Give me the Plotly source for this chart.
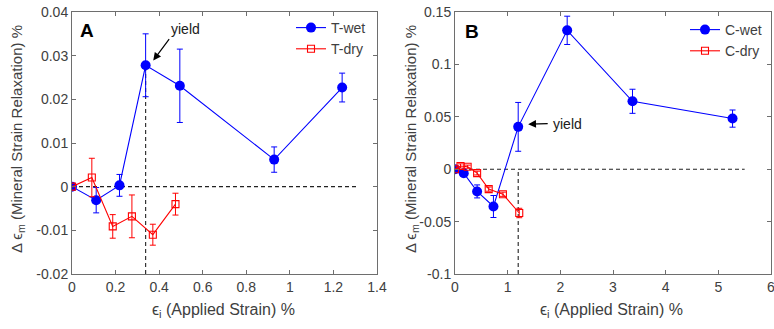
import plotly.graph_objects as go

# ---------------- Panel A data ----------------
tw_x = [0.0, 0.111, 0.218, 0.338, 0.495, 0.928, 1.240]
tw_y = [0.0, -0.0031, 0.0003, 0.0278, 0.0231, 0.0062, 0.0227]
tw_err = [0.0, 0.0029, 0.0025, 0.0072, 0.0084, 0.0029, 0.0033]

td_x = [0.0, 0.091, 0.187, 0.275, 0.371, 0.475]
td_y = [0.0, 0.0021, -0.0091, -0.0068, -0.0110, -0.0040]
td_err = [0.0, 0.0044, 0.0027, 0.0049, 0.0024, 0.0025]

# ---------------- Panel B data ----------------
cw_x = [0.0, 0.166, 0.42, 0.73, 1.20, 2.13, 3.37, 5.27]
cw_y = [0.0, -0.0039, -0.0212, -0.0356, 0.0404, 0.1325, 0.0648, 0.0483]
cw_err = [0.0, 0.002, 0.0062, 0.0105, 0.0233, 0.0135, 0.0115, 0.0082]

cd_x = [0.0, 0.104, 0.24, 0.42, 0.64, 0.91, 1.22]
cd_y = [0.0, 0.0031, 0.0024, -0.0037, -0.0190, -0.0239, -0.0418]
cd_err = [0.0, 0.002, 0.0015, 0.0018, 0.002, 0.002, 0.0045]

# reference lines / annotations
yield_A = 0.338
yield_B = 1.20
zero_end_A = 1.31
zero_end_B = 5.5

xticks_A = [0, 0.2, 0.4, 0.6, 0.8, 1, 1.2, 1.4]
xtick_text_A = ["0", "0.2", "0.4", "0.6", "0.8", "1", "1.2", "1.4"]
yticks_A = [-0.02, -0.01, 0, 0.01, 0.02, 0.03, 0.04]
ytick_text_A = ["-0.02", "-0.01", "0", "0.01", "0.02", "0.03", "0.04"]
xticks_B = [0, 1, 2, 3, 4, 5, 6]
yticks_B = [-0.1, -0.05, 0, 0.05, 0.1, 0.15]
ytick_text_B = ["-0.1", "-0.05", "0", "0.05", "0.1", "0.15"]

BLUE = "#0000ff"
RED = "#ff0000"
FONT = "Liberation Sans, Arial, sans-serif"
AXC = "#6e6e6e"
TXC = "#404040"
DASH = "4px,3px"

fig = go.Figure()

def errbar(vals, color):
    return dict(type="data", array=vals, visible=True, color=color,
                thickness=1, width=3)

# reference dashed lines (drawn first)
fig.add_trace(go.Scatter(x=[0, zero_end_A], y=[0, 0], mode="lines",
                         line=dict(color="#222", width=1.1, dash=DASH),
                         showlegend=False, hoverinfo="skip", xaxis="x", yaxis="y"))
fig.add_trace(go.Scatter(x=[yield_A, yield_A], y=[yticks_A[0], tw_y[3]], mode="lines",
                         line=dict(color="#222", width=1.1, dash=DASH),
                         showlegend=False, hoverinfo="skip", xaxis="x", yaxis="y"))
fig.add_trace(go.Scatter(x=[0, zero_end_B], y=[0, 0], mode="lines",
                         line=dict(color="#222", width=1.1, dash=DASH),
                         showlegend=False, hoverinfo="skip", xaxis="x2", yaxis="y2"))
fig.add_trace(go.Scatter(x=[yield_B, yield_B], y=[yticks_B[0], 0], mode="lines",
                         line=dict(color="#222", width=1.1, dash=DASH),
                         showlegend=False, hoverinfo="skip", xaxis="x2", yaxis="y2"))

# Panel A
fig.add_trace(go.Scatter(x=tw_x, y=tw_y, error_y=errbar(tw_err, BLUE), name="T-wet",
                         mode="lines+markers", line=dict(color=BLUE, width=1.1),
                         marker=dict(symbol="circle", size=10, color=BLUE),
                         xaxis="x", yaxis="y", legend="legend"))
fig.add_trace(go.Scatter(x=td_x, y=td_y, error_y=errbar(td_err, RED), name="T-dry",
                         mode="lines+markers", line=dict(color=RED, width=1.1),
                         marker=dict(symbol="square-open", size=7, color=RED,
                                     line=dict(width=1.1, color=RED)),
                         xaxis="x", yaxis="y", legend="legend"))
# Panel B
fig.add_trace(go.Scatter(x=cw_x, y=cw_y, error_y=errbar(cw_err, BLUE), name="C-wet",
                         mode="lines+markers", line=dict(color=BLUE, width=1.1),
                         marker=dict(symbol="circle", size=10, color=BLUE),
                         xaxis="x2", yaxis="y2", legend="legend2"))
fig.add_trace(go.Scatter(x=cd_x, y=cd_y, error_y=errbar(cd_err, RED), name="C-dry",
                         mode="lines+markers", line=dict(color=RED, width=1.1),
                         marker=dict(symbol="square-open", size=7, color=RED,
                                     line=dict(width=1.1, color=RED)),
                         xaxis="x2", yaxis="y2", legend="legend2"))

axis_common = dict(showline=True, linecolor=AXC, linewidth=1, mirror="ticks",
                   ticks="inside", ticklen=4, tickcolor=AXC, showgrid=False,
                   zeroline=False, tickfont=dict(family=FONT, size=14, color=TXC),
                   automargin=False, ticklabeloverflow="allow")

H = 329.0
W = 774.0
ydom = [1 - 274 / H, 1 - 12 / H]

fig.update_layout(
    width=774, height=329,
    margin=dict(l=0, r=0, t=0, b=0),
    paper_bgcolor="white", plot_bgcolor="white",
    font=dict(family=FONT, size=14, color=TXC),
    xaxis=dict(domain=[72 / W, 377 / W], range=[0, 1.4], tickvals=xticks_A,
               ticktext=xtick_text_A, anchor="y", **axis_common),
    yaxis=dict(domain=ydom, range=[-0.02, 0.04], tickvals=yticks_A,
               ticktext=ytick_text_A, anchor="x", **axis_common),
    xaxis2=dict(domain=[455 / W, 771 / W], range=[0, 6], tickvals=xticks_B,
                anchor="y2", **axis_common),
    yaxis2=dict(domain=ydom, range=[-0.1, 0.15], tickvals=yticks_B,
                ticktext=ytick_text_B, anchor="x2", **axis_common),
    legend=dict(x=291 / W, y=1 - 12 / H, xanchor="left", yanchor="top",
                bgcolor="rgba(255,255,255,0)", borderwidth=0,
                font=dict(family=FONT, size=14, color=TXC), tracegroupgap=0,
                itemwidth=30),
    legend2=dict(x=685 / W, y=1 - 14 / H, xanchor="left", yanchor="top",
                 bgcolor="rgba(255,255,255,0)", borderwidth=0,
                 font=dict(family=FONT, size=14, color=TXC), tracegroupgap=0,
                 itemwidth=30),
)

ann = []
# panel letters
ann.append(dict(text="<b>A</b>", x=0.07, y=0.0357, xref="x", yref="y", showarrow=False,
                font=dict(family=FONT, size=19, color="black"), xanchor="center",
                yanchor="middle"))
ann.append(dict(text="<b>B</b>", x=0.32, y=0.131, xref="x2", yref="y2", showarrow=False,
                font=dict(family=FONT, size=19, color="black"), xanchor="center",
                yanchor="middle"))
# yield arrows with their labels (text sits at the arrow tail)
ann.append(dict(text="yield", x=0.373, y=0.0289, ax=0.446, ay=0.0338, xref="x", yref="y",
                axref="x", ayref="y", showarrow=True, arrowhead=2, arrowsize=1.3,
                arrowwidth=1.2, arrowcolor="black", xanchor="left", yanchor="bottom",
                borderpad=1, font=dict(family=FONT, size=14, color="#202020")))
ann.append(dict(text="yield", x=1.39, y=0.043, ax=1.76, ay=0.0435, xref="x2", yref="y2",
                axref="x2", ayref="y2", showarrow=True, arrowhead=2, arrowsize=1.3,
                arrowwidth=1.2, arrowcolor="black", xanchor="left", yanchor="middle",
                borderpad=4, font=dict(family=FONT, size=14, color="#202020")))
# axis titles
ytitle = "Δ ϵ<sub>m</sub> (Mineral Strain Relaxation) %"
xtitle = "ϵ<sub>i</sub> (Applied Strain) %"
for xp in (17, 411):
    ann.append(dict(text=ytitle, x=xp / W, y=1 - 139 / H, xref="paper", yref="paper",
                    xanchor="center", yanchor="middle",
                    textangle=-90, showarrow=False,
                    font=dict(family=FONT, size=15, color=TXC)))
for xp in (224, 611):
    ann.append(dict(text=xtitle, x=xp / W, y=1 - 310 / H, xref="paper", yref="paper",
                    xanchor="center", yanchor="middle",
                    showarrow=False, font=dict(family=FONT, size=16, color=TXC)))
fig.update_layout(annotations=ann)

fig.write_html("out.html", config={"displayModeBar": False},
               post_script="document.body.style.margin='0';document.body.style.padding='0';")
